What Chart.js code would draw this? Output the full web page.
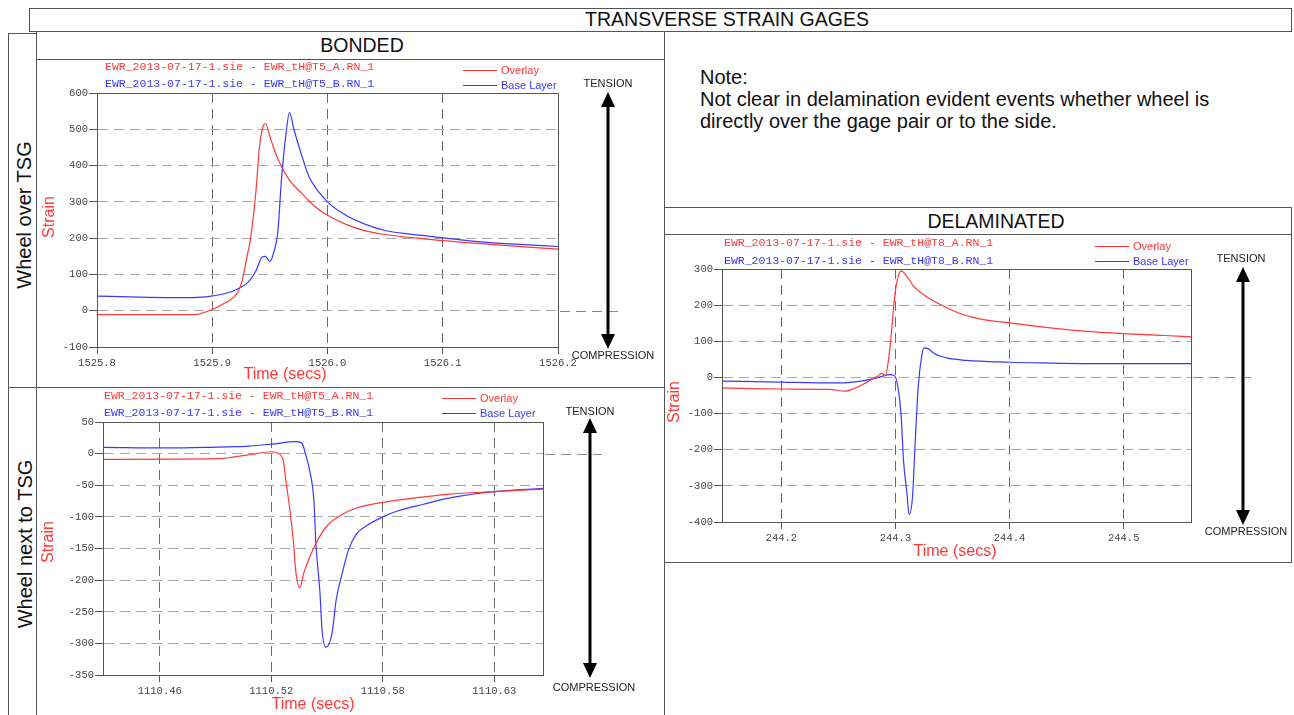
<!doctype html>
<html lang="en">
<head>
<meta charset="utf-8">
<title>Transverse strain gages</title>
<script src="https://cdn.jsdelivr.net/npm/chart.js"></script>
<style>
  body { margin:0; background:#fff; width:1294px; height:715px; position:relative; overflow:hidden;
         font-family:"Liberation Sans", Arial, sans-serif; }
  .box { position:absolute; border:1px solid #555; box-sizing:border-box; }
  .ln  { position:absolute; background:#555; }
  .lbl { position:absolute; white-space:nowrap; color:#111; transform:translate(-50%,-50%); }
  .rot { transform:translate(-50%,-50%) rotate(-90deg); }
  canvas { position:absolute; }
</style>
</head>
<body>

<!-- frames -->
<div class="box" style="left:29px;top:8px;width:1263px;height:24px"></div>
<div class="lbl" style="left:727px;top:19px;font-size:19.5px">TRANSVERSE STRAIN GAGES</div>

<div class="box" style="left:36px;top:31px;width:629px;height:29px"></div>
<div class="lbl" style="left:362px;top:45px;font-size:19.5px">BONDED</div>

<div class="ln" style="left:8px;top:33px;width:1px;height:682px"></div>
<div class="ln" style="left:8px;top:33px;width:28px;height:1px"></div>
<div class="ln" style="left:36px;top:31px;width:1px;height:684px"></div>
<div class="ln" style="left:664px;top:31px;width:1px;height:684px"></div>
<div class="ln" style="left:8px;top:387px;width:657px;height:1px"></div>

<div class="lbl rot" style="left:24px;top:215px;font-size:20px">Wheel over TSG</div>
<div class="lbl rot" style="left:25px;top:544px;font-size:20px">Wheel next to TSG</div>

<div style="position:absolute;left:700px;top:66px;font-size:20px;line-height:22px;color:#111">
  Note:<br>Not clear in delamination evident events whether wheel is<br>directly over the gage pair or to the side.
</div>

<div class="box" style="left:664px;top:207px;width:628px;height:28px"></div>
<div class="lbl" style="left:996px;top:221px;font-size:19.5px">DELAMINATED</div>
<div class="box" style="left:664px;top:234px;width:628px;height:329px"></div>

<canvas id="c1" width="628" height="328" style="left:36px;top:59px"></canvas>
<canvas id="c2" width="628" height="328" style="left:36px;top:387px"></canvas>
<canvas id="c3" width="627" height="328" style="left:664px;top:234px"></canvas>

<script>
// ---- bonded, wheel over TSG
const xTicks1 = [1525.8, 1525.9, 1526.0, 1526.1, 1526.2];
const xLabels1 = ['1525.8', '1525.9', '1526.0', '1526.1', '1526.2'];
const overT1 = [1525.800, 1525.884, 1525.899, 1525.912, 1525.922, 1525.926, 1525.930, 1525.933, 1525.938, 1525.941,
  1525.944, 1525.946, 1525.951, 1525.956, 1525.961, 1525.967, 1525.978, 1525.988, 1526.000, 1526.016,
  1526.033, 1526.050, 1526.084, 1526.100, 1526.136, 1526.171, 1526.200];
const overlay1 = [-11, -11, 2, 23, 50, 83, 147, 194, 332, 452,
  507, 516, 470, 425, 392, 360, 322, 290, 263, 238,
  220, 210, 198, 193, 184, 176, 170];
const baseT1 = [1525.800, 1525.884, 1525.899, 1525.912, 1525.922, 1525.931, 1525.938, 1525.943, 1525.946, 1525.950,
  1525.953, 1525.957, 1525.960, 1525.964, 1525.967, 1525.971, 1525.978, 1525.984, 1526.000, 1526.016,
  1526.033, 1526.050, 1526.084, 1526.100, 1526.136, 1526.171, 1526.200];
const base1 = [40, 36, 40, 48, 60, 78, 110, 147, 150, 136,
  157, 221, 359, 488, 546, 498, 424, 369, 300, 263,
  238, 221, 207, 201, 189, 182, 177];

// ---- bonded, wheel next to TSG
const xTicks2 = [1110.465, 1110.52, 1110.575, 1110.63];
const xLabels2 = ['1110.46', '1110.52', '1110.58', '1110.63'];
const overT2 = [1110.437, 1110.494, 1110.502, 1110.511, 1110.520, 1110.523, 1110.526, 1110.527, 1110.529, 1110.531,
  1110.532, 1110.534, 1110.536, 1110.539, 1110.542, 1110.547, 1110.554, 1110.562, 1110.575, 1110.591,
  1110.608, 1110.630, 1110.654];
const overlay2 = [-9, -8, -5, -1, 3, 1, -12, -38, -85, -142,
  -184, -212, -189, -163, -142, -116, -98, -86, -77, -70,
  -64, -60, -56];
const baseT2 = [1110.437, 1110.469, 1110.490, 1110.502, 1110.509, 1110.520, 1110.532, 1110.535, 1110.537, 1110.539,
  1110.541, 1110.542, 1110.544, 1110.545, 1110.547, 1110.550, 1110.552, 1110.555, 1110.558, 1110.562,
  1110.567, 1110.575, 1110.583, 1110.595, 1110.608, 1110.630, 1110.654];
const base2 = [10, 9, 10, 11, 12, 15, 19, 17, -2, -28,
  -74, -142, -220, -278, -306, -283, -231, -189, -153, -127,
  -114, -100, -90, -80, -70, -60, -55];

// ---- delaminated
const xTicks3 = [244.2, 244.3, 244.4, 244.5];
const xLabels3 = ['244.2', '244.3', '244.4', '244.5'];
const overT3 = [244.148, 244.199, 244.242, 244.256, 244.263, 244.274, 244.284, 244.288, 244.291, 244.294,
  244.297, 244.299, 244.302, 244.305, 244.309, 244.316, 244.327, 244.341, 244.359, 244.377,
  244.400, 244.430, 244.465, 244.500, 244.536, 244.559];
const overlay3 = [-29, -32, -33, -38, -32, -15, 3, 11, 5, 50,
  142, 215, 275, 295, 284, 252, 224, 199, 174, 160,
  151, 139, 128, 121, 116, 112];
const baseT3 = [244.148, 244.199, 244.252, 244.270, 244.284, 244.295, 244.299, 244.302, 244.305, 244.307,
  244.310, 244.312, 244.315, 244.317, 244.320, 244.323, 244.325, 244.329, 244.334, 244.345,
  244.362, 244.400, 244.430, 244.483, 244.559];
const base3 = [-10, -13, -15, -10, -1, 8, 5, -24, -107, -227,
  -319, -379, -328, -199, -24, 59, 82, 79, 66, 54,
  47, 42, 40, 38, 38];

const RED = '#ff3838', BLUE = '#3838ff';
const MONO = '"Liberation Mono", "Courier New", monospace';
const SANS = '"Liberation Sans", Arial, sans-serif';

const pts = (xs, ys) => xs.map((x, i) => ({x: x, y: ys[i]}));

// frame, header, legend, arrow and axis titles
const decor = {
  id: 'decor',
  afterDraw(chart, args, o) {
    const ctx = chart.ctx, a = chart.chartArea;
    const y0 = Math.round(chart.scales.y.getPixelForValue(0)) + 0.5;
    ctx.save();
    ctx.strokeStyle = '#555'; ctx.lineWidth = 1;
    ctx.strokeRect(a.left + 0.5, a.top + 0.5, a.right - a.left, a.bottom - a.top);

    // zero line continues out to the arrow
    ctx.strokeStyle = '#888'; ctx.setLineDash([10, 6]);
    ctx.beginPath(); ctx.moveTo(a.right + 2, y0); ctx.lineTo(o.zeroTo, y0); ctx.stroke();
    ctx.setLineDash([]);

    // file names
    ctx.textBaseline = 'middle'; ctx.textAlign = 'left';
    ctx.font = '11.5px ' + MONO;
    ctx.fillStyle = RED;  ctx.fillText(o.files[0], o.fileX, o.fileY[0]);
    ctx.fillStyle = BLUE; ctx.fillText(o.files[1], o.fileX, o.fileY[1]);

    // legend
    ctx.font = '11px ' + SANS;
    [[RED, 'Overlay'], [BLUE, 'Base Layer']].forEach((d, i) => {
      ctx.strokeStyle = d[0]; ctx.lineWidth = 1.2;
      ctx.beginPath(); ctx.moveTo(o.legX, o.legY[i] + 0.5); ctx.lineTo(o.legX + 34, o.legY[i] + 0.5); ctx.stroke();
      ctx.fillStyle = d[0]; ctx.fillText(d[1], o.legX + 38, o.legY[i] + 1);
    });

    // tension / compression arrow
    const ax = o.arrowX;
    ctx.strokeStyle = '#000'; ctx.fillStyle = '#000'; ctx.lineWidth = 3;
    ctx.beginPath(); ctx.moveTo(ax, o.arrowTop + 12); ctx.lineTo(ax, o.arrowBot - 12); ctx.stroke();
    ctx.beginPath(); ctx.moveTo(ax, o.arrowTop); ctx.lineTo(ax - 7, o.arrowTop + 15); ctx.lineTo(ax + 7, o.arrowTop + 15); ctx.fill();
    ctx.beginPath(); ctx.moveTo(ax, o.arrowBot); ctx.lineTo(ax - 7, o.arrowBot - 15); ctx.lineTo(ax + 7, o.arrowBot - 15); ctx.fill();
    ctx.font = '11px ' + SANS; ctx.fillStyle = '#222'; ctx.textAlign = 'center';
    ctx.fillText('TENSION', o.tension[0], o.tension[1]);
    ctx.fillText('COMPRESSION', o.comp[0], o.comp[1]);

    // axis titles
    ctx.fillStyle = RED; ctx.font = '16px ' + SANS;
    ctx.fillText('Time (secs)', o.time[0], o.time[1]);
    ctx.translate(o.strain[0], o.strain[1]); ctx.rotate(-Math.PI / 2);
    ctx.fillText('Strain', 0, 0);
    ctx.restore();
  }
};

function strainChart(id, s) {
  const tickFont = {family: MONO, size: 10.5};
  return new Chart(document.getElementById(id), {
    type: 'line',
    data: {
      datasets: [
        {label: 'Overlay', data: pts(s.overT, s.over), borderColor: RED, borderWidth: 1.2,
         pointRadius: 0, fill: false, cubicInterpolationMode: 'monotone'},
        {label: 'Base Layer', data: pts(s.baseT, s.base), borderColor: BLUE, borderWidth: 1.2,
         pointRadius: 0, fill: false, cubicInterpolationMode: 'monotone'}
      ]
    },
    options: {
      responsive: false, animation: false, events: [],
      layout: {padding: s.pad},
      plugins: {legend: {display: false}, tooltip: {enabled: false}, decor: s.decor},
      scales: {
        x: {
          type: 'linear', min: s.xMin, max: s.xMax,
          afterBuildTicks: sc => { sc.ticks = s.xTicks.map(v => ({value: v})); },
          afterFit: sc => { sc.height = s.xH; },
          ticks: {callback: (v, i) => s.xLabels[i], autoSkip: false, maxRotation: 0,
                  font: tickFont, color: '#444', padding: 3},
          grid: {color: '#6a6a6a', tickLength: 7, tickColor: '#555', tickBorderDash: []},
          border: {display: true, color: '#555', dash: [10, 6]}
        },
        y: {
          min: s.yMin, max: s.yMax,
          afterFit: sc => { sc.width = s.yW; },
          ticks: {stepSize: s.yStep, font: tickFont, color: '#444', padding: 1},
          grid: {color: '#a8a8a8', tickLength: 8, tickColor: '#555', tickBorderDash: []},
          border: {display: true, color: '#555', dash: [10, 6]}
        }
      }
    },
    plugins: [decor]
  });
}

strainChart('c1', {
  overT: overT1, over: overlay1, baseT: baseT1, base: base1,
  xTicks: xTicks1, xLabels: xLabels1, xMin: 1525.8, xMax: 1526.2,
  yMin: -100, yMax: 600, yStep: 100,
  pad: {left: 0, top: 34, right: 106, bottom: 0}, yW: 61, xH: 40,
  decor: {files: ['EWR_2013-07-17-1.sie - EWR_tH@T5_A.RN_1', 'EWR_2013-07-17-1.sie - EWR_tH@T5_B.RN_1'],
    fileX: 69, fileY: [8, 25], legX: 427, legY: [11, 26],
    arrowX: 572, arrowTop: 33, arrowBot: 290, tension: [572, 25], comp: [577, 297], zeroTo: 585,
    strain: [14, 158], time: [249, 316]}
});

strainChart('c2', {
  overT: overT2, over: overlay2, baseT: baseT2, base: base2,
  xTicks: xTicks2, xLabels: xLabels2, xMin: 1110.437, xMax: 1110.654,
  yMin: -350, yMax: 50, yStep: 50,
  pad: {left: 0, top: 35, right: 121, bottom: 0}, yW: 67, xH: 40,
  decor: {files: ['EWR_2013-07-17-1.sie - EWR_tH@T5_A.RN_1', 'EWR_2013-07-17-1.sie - EWR_tH@T5_B.RN_1'],
    fileX: 68, fileY: [9, 26], legX: 406, legY: [11, 26],
    arrowX: 554, arrowTop: 31, arrowBot: 291, tension: [554, 25], comp: [558, 301], zeroTo: 566,
    strain: [13, 155], time: [277, 318]}
});

strainChart('c3', {
  overT: overT3, over: overlay3, baseT: baseT3, base: base3,
  xTicks: xTicks3, xLabels: xLabels3, xMin: 244.148, xMax: 244.559,
  yMin: -400, yMax: 300, yStep: 100,
  pad: {left: 0, top: 35, right: 100, bottom: 0}, yW: 58, xH: 40,
  decor: {files: ['EWR_2013-07-17-1.sie - EWR_tH@T8_A.RN_1', 'EWR_2013-07-17-1.sie - EWR_tH@T8_B.RN_1'],
    fileX: 60, fileY: [9, 27], legX: 431, legY: [12, 27],
    arrowX: 579, arrowTop: 33, arrowBot: 291, tension: [577, 25], comp: [582, 298], zeroTo: 590,
    strain: [11, 168], time: [291, 318]}
});
</script>
</body>
</html>
